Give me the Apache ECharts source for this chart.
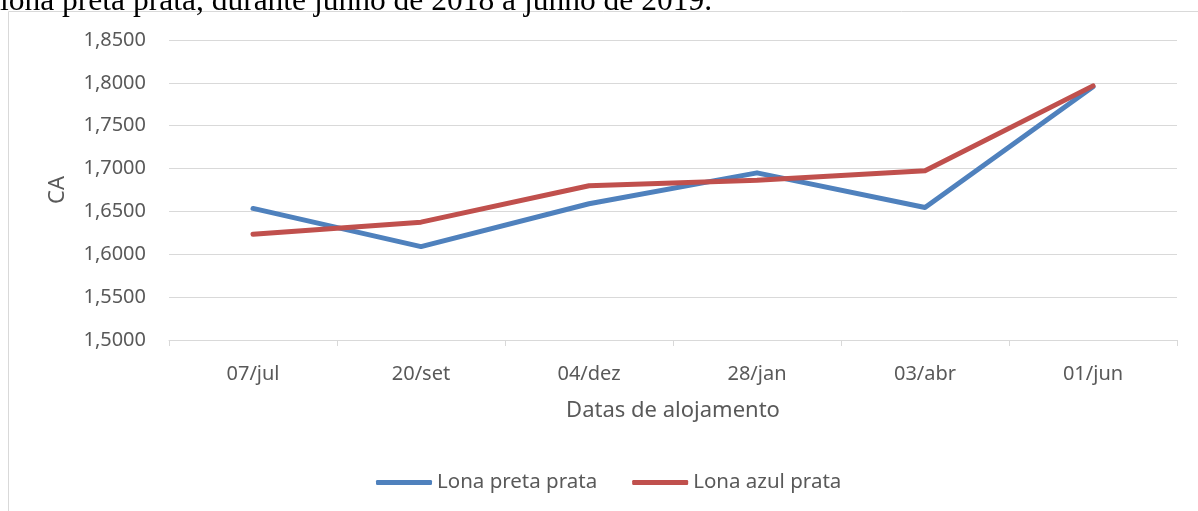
<!DOCTYPE html>
<html>
<head>
<meta charset="utf-8">
<script src="https://cdn.jsdelivr.net/npm/echarts@6/dist/echarts.min.js"></script>
<style>
  html, body { margin: 0; padding: 0; background: #fff; }
  #main { width: 1198px; height: 511px; }
</style>
</head>
<body>
<div id="main"></div>
<script>
// dados
const datas = ['07/jul', '20/set', '04/dez', '28/jan', '03/abr', '01/jun']
const lonaPreta = [1.6535, 1.6090, 1.6590, 1.6950, 1.6545, 1.7955]
const lonaAzul = [1.6233, 1.6375, 1.6800, 1.6865, 1.6975, 1.7965]

const corTexto = '#595959'
const corGrade = '#d9d9d9'
const fonte = '"Noto Sans", sans-serif'

const myChart = echarts.init(document.getElementById('main'))

myChart.setOption({
    animation: false,
    textStyle: { fontFamily: fonte },
    graphic: [
        {
            type: 'rect',
            shape: { x: 8.5, y: 11.5, width: 1300, height: 600 },
            style: { fill: 'none', stroke: corGrade, lineWidth: 1 },
            silent: true
        },
        {
            type: 'text',
            left: 0,
            top: -14,
            style: {
                text: 'lona preta prata, durante junho de 2018 a junho de 2019.',
                fontFamily: '"Liberation Serif", serif',
                fontSize: 31.5,
                fill: '#000'
            }
        }
    ],
    grid: { left: 169, right: 21, top: 40, bottom: 171 },
    legend: {
        bottom: 13,
        left: 371,
        icon: 'roundRect',
        itemWidth: 56,
        itemHeight: 5,
        itemGap: 35,
        textStyle: { color: corTexto, fontSize: 20.5 },
        data: ['Lona preta prata', 'Lona azul prata']
    },
    xAxis: {
        type: 'category',
        data: datas,
        boundaryGap: true,
        name: 'Datas de alojamento',
        nameLocation: 'middle',
        nameGap: 60,
        nameTextStyle: { color: corTexto, fontSize: 22 },
        axisLine: { lineStyle: { color: corGrade } },
        axisTick: { show: true, length: 6, lineStyle: { color: corGrade } },
        axisLabel: { color: corTexto, fontSize: 20, margin: 24 }
    },
    yAxis: {
        type: 'value',
        min: 1.5,
        max: 1.85,
        interval: 0.05,
        name: 'CA',
        nameLocation: 'middle',
        nameGap: 100,
        nameTextStyle: { color: corTexto, fontSize: 22 },
        axisLine: { show: false },
        axisTick: { show: false },
        splitLine: { lineStyle: { color: corGrade, width: 1 } },
        axisLabel: {
            color: corTexto,
            fontSize: 20,
            margin: 23,
            formatter: v => (Math.round(v * 10000) / 10000).toFixed(4).replace('.', ',')
        }
    },
    series: [
        {
            name: 'Lona preta prata',
            type: 'line',
            data: lonaPreta,
            symbol: 'none',
            itemStyle: { color: '#4f81bd' },
            lineStyle: { color: '#4f81bd', width: 5, cap: 'round', join: 'round' }
        },
        {
            name: 'Lona azul prata',
            type: 'line',
            data: lonaAzul,
            symbol: 'none',
            itemStyle: { color: '#c0504d' },
            lineStyle: { color: '#c0504d', width: 5, cap: 'round', join: 'round' }
        }
    ]
})
</script>
</body>
</html>
